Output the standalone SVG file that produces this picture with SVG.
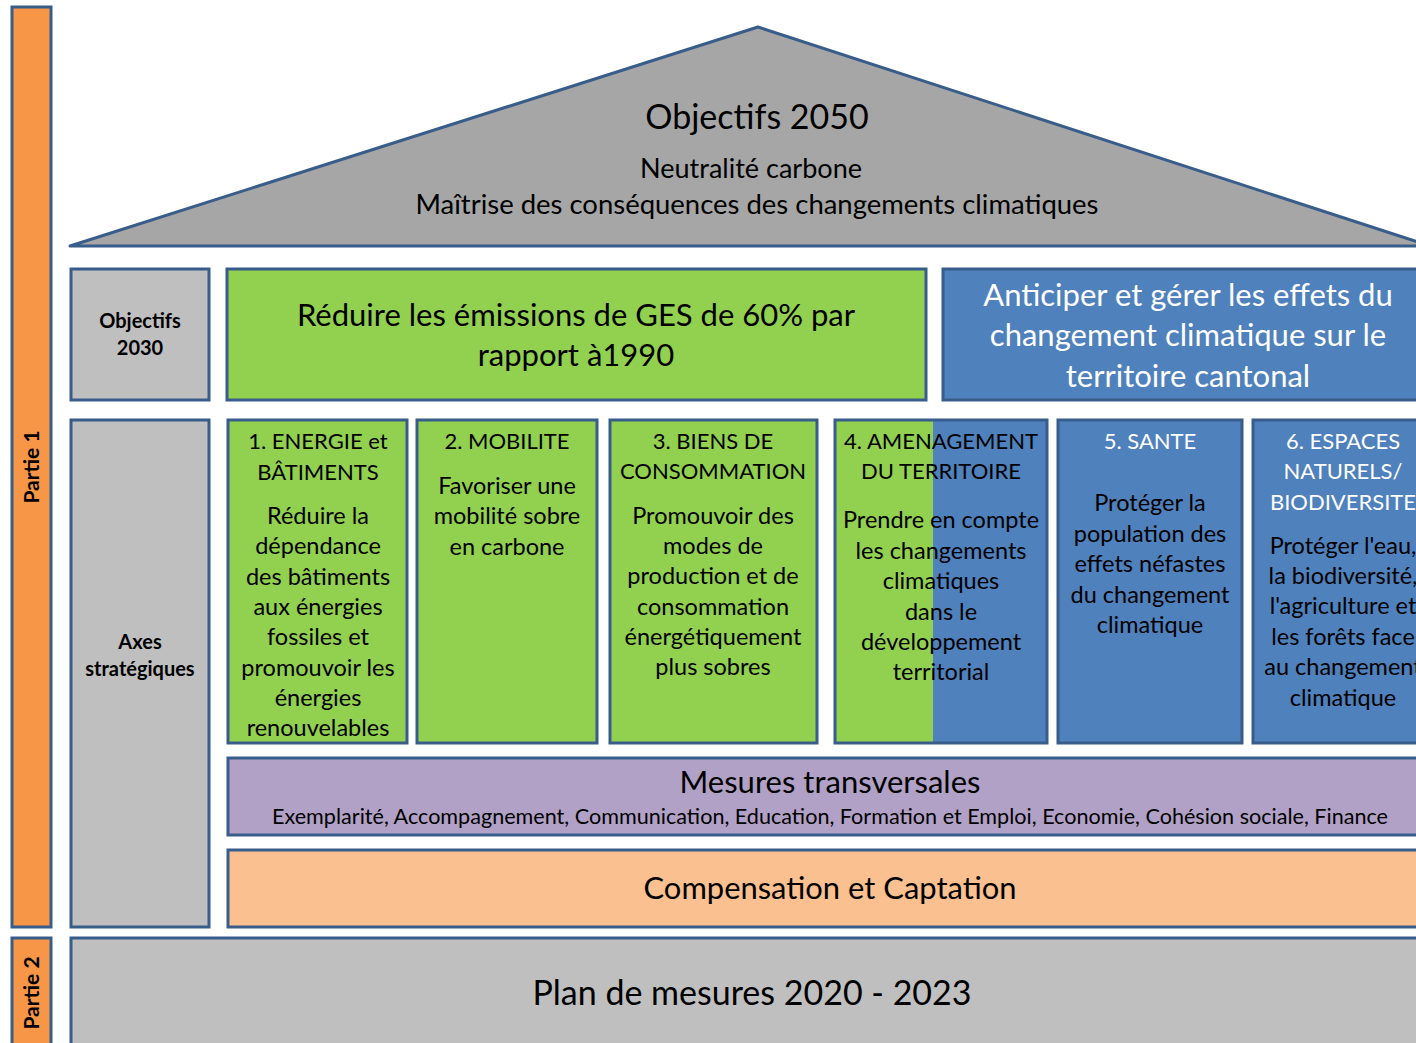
<svg xmlns="http://www.w3.org/2000/svg" width="1416" height="1043" viewBox="0 0 1416 1043">
<style>
.b{stroke:#385D8A;stroke-width:3}
.t{font-family:Lato,"Liberation Sans",sans-serif;fill:#000;text-anchor:middle}
.w{fill:#fff}
.bd{font-weight:bold}
.s22{font-size:22px}
.s23{font-size:23.5px}
.s29{font-size:31px}
</style>
<rect width="1416" height="1043" fill="#fff"/>
<g id="partie1">
<rect class="b" x="12" y="7" width="39" height="920" fill="#F79646"/>
<text class="t bd" font-size="21" transform="translate(39,467) rotate(-90)">Partie 1</text>
</g>
<g id="partie2">
<rect class="b" x="12" y="938" width="39" height="110" fill="#F79646"/>
<text class="t bd" font-size="21" transform="translate(39,993) rotate(-90)">Partie 2</text>
</g>
<g id="roof">
<polygon class="b" points="70,246 758,27 1430,246" fill="#A6A6A6" stroke-linejoin="round"/>
<text class="t" x="757" y="129" font-size="34">Objectifs 2050</text>
<text class="t" x="751" y="178" font-size="26" textLength="222" lengthAdjust="spacingAndGlyphs">Neutralité carbone</text>
<text class="t" x="757" y="214" font-size="26" textLength="683" lengthAdjust="spacingAndGlyphs">Maîtrise des conséquences  des changements climatiques</text>
</g>
<g id="obj2030">
<rect class="b" x="71" y="269" width="138" height="131" fill="#BFBFBF"/>
<text class="t bd" x="140" y="328" font-size="20">Objectifs</text>
<text class="t bd" x="140" y="355" font-size="20">2030</text>
</g>
<g id="reduire">
<rect class="b" x="227" y="269" width="699" height="131" fill="#92D050"/>
<text class="t s29" x="576" y="326">Réduire les émissions de GES de 60% par</text>
<text class="t s29" x="576" y="366">rapport à1990</text>
</g>
<g id="anticiper">
<rect class="b" x="943" y="269" width="490" height="131" fill="#4F81BD"/>
<text class="t s29 w" x="1188" y="306">Anticiper et gérer les effets du</text>
<text class="t s29 w" x="1188" y="346">changement climatique sur le</text>
<text class="t s29 w" x="1188" y="387">territoire cantonal</text>
</g>
<g id="axes">
<rect class="b" x="71" y="420" width="138" height="507" fill="#BFBFBF"/>
<text class="t bd" x="140" y="649" font-size="20">Axes</text>
<text class="t bd" x="140" y="676" font-size="20">stratégiques</text>
</g>
<g id="axe1">
<rect class="b" x="228" y="420" width="179" height="323" fill="#92D050"/>
<text class="t s22" x="318" y="449">1. ENERGIE et</text>
<text class="t s22" x="318" y="480">BÂTIMENTS</text>
<text class="t s23" x="318" y="524">Réduire la</text>
<text class="t s23" x="318" y="554">dépendance</text>
<text class="t s23" x="318" y="585">des bâtiments</text>
<text class="t s23" x="318" y="615">aux énergies</text>
<text class="t s23" x="318" y="645">fossiles et</text>
<text class="t s23" x="318" y="676">promouvoir les</text>
<text class="t s23" x="318" y="706">énergies</text>
<text class="t s23" x="318" y="736">renouvelables</text>
</g>
<g id="axe2">
<rect class="b" x="417" y="420" width="180" height="323" fill="#92D050"/>
<text class="t s22" x="507" y="449">2. MOBILITE</text>
<text class="t s23" x="507" y="494">Favoriser une</text>
<text class="t s23" x="507" y="524">mobilité sobre</text>
<text class="t s23" x="507" y="555">en carbone</text>
</g>
<g id="axe3">
<rect class="b" x="610" y="420" width="207" height="323" fill="#92D050"/>
<text class="t s22" x="713" y="449">3. BIENS DE</text>
<text class="t s22" x="713" y="479">CONSOMMATION</text>
<text class="t s23" x="713" y="524">Promouvoir des</text>
<text class="t s23" x="713" y="554">modes de</text>
<text class="t s23" x="713" y="584">production et de</text>
<text class="t s23" x="713" y="615">consommation</text>
<text class="t s23" x="713" y="645">énergétiquement</text>
<text class="t s23" x="713" y="675">plus sobres</text>
</g>
<g id="axe4">
<rect x="835" y="420" width="212" height="323" fill="#4F81BD"/>
<rect x="835" y="420" width="98" height="323" fill="#92D050"/>
<rect class="b" x="835" y="420" width="212" height="323" fill="none"/>
<text class="t s22" x="941" y="449">4. AMENAGEMENT</text>
<text class="t s22" x="941" y="479">DU TERRITOIRE</text>
<text class="t s23" x="941" y="528">Prendre en compte</text>
<text class="t s23" x="941" y="559">les changements</text>
<text class="t s23" x="941" y="589">climatiques</text>
<text class="t s23" x="941" y="620">dans le</text>
<text class="t s23" x="941" y="650">développement</text>
<text class="t s23" x="941" y="680">territorial</text>
</g>
<g id="axe5">
<rect class="b" x="1058" y="420" width="184" height="323" fill="#4F81BD"/>
<text class="t s22 w" x="1150" y="449">5. SANTE</text>
<text class="t s23" x="1150" y="511">Protéger la</text>
<text class="t s23" x="1150" y="542">population des</text>
<text class="t s23" x="1150" y="572">effets néfastes</text>
<text class="t s23" x="1150" y="603">du changement</text>
<text class="t s23" x="1150" y="633">climatique</text>
</g>
<g id="axe6">
<rect class="b" x="1253" y="420" width="190" height="323" fill="#4F81BD"/>
<text class="t s22 w" x="1343" y="449">6. ESPACES</text>
<text class="t s22 w" x="1343" y="479">NATURELS/</text>
<text class="t s22 w" x="1343" y="510">BIODIVERSITE</text>
<text class="t s23" x="1343" y="554">Protéger l'eau,</text>
<text class="t s23" x="1343" y="584">la biodiversité,</text>
<text class="t s23" x="1343" y="614">l'agriculture et</text>
<text class="t s23" x="1343" y="645">les forêts face</text>
<text class="t s23" x="1343" y="675">au changement</text>
<text class="t s23" x="1343" y="706">climatique</text>
</g>
<g id="mesures">
<rect class="b" x="228" y="758" width="1210" height="77" fill="#B2A1C7"/>
<text class="t" x="830" y="793" font-size="30" textLength="301" lengthAdjust="spacingAndGlyphs">Mesures transversales</text>
<text class="t" x="830" y="824" font-size="21" textLength="1116" lengthAdjust="spacingAndGlyphs">Exemplarité, Accompagnement, Communication, Education, Formation et Emploi, Economie, Cohésion sociale, Finance</text>
</g>
<g id="compensation">
<rect class="b" x="228" y="850" width="1210" height="77" fill="#FAC090"/>
<text class="t" x="830" y="899" font-size="30" textLength="373" lengthAdjust="spacingAndGlyphs">Compensation  et Captation</text>
</g>
<g id="plan">
<rect class="b" x="71" y="938" width="1370" height="120" fill="#BFBFBF"/>
<text class="t" x="752" y="1005" font-size="34">Plan de mesures 2020 - 2023</text>
</g>
<g id="connectors"/>
</svg>
